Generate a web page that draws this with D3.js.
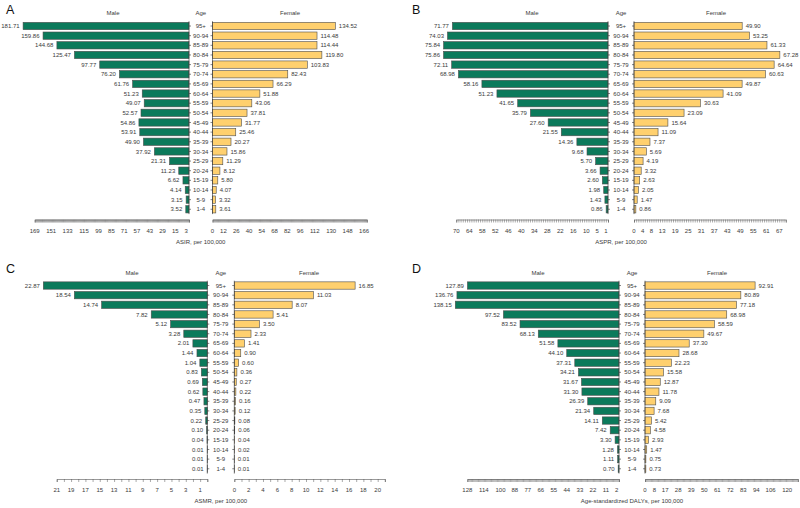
<!DOCTYPE html>
<html><head><meta charset="utf-8">
<script src="https://cdn.jsdelivr.net/npm/d3@7"></script>
<style>html,body{margin:0;padding:0;background:#fff}svg{display:block}</style>
</head><body><svg id="c" width="800" height="508"></svg>
<script>
const ages = ["95+","90-94","85-89","80-84","75-79","70-74","65-69","60-64","55-59","50-54","45-49","40-44","35-39","30-34","25-29","20-24","15-19","10-14","5-9","1-4"];

const asirMale   = [181.71,159.86,144.68,125.47,97.77,76.20,61.76,51.23,49.07,52.57,54.86,53.91,49.90,37.92,21.31,11.23,6.62,4.14,3.15,3.52];
const asirFemale = [134.52,114.48,114.44,119.80,103.83,82.43,66.29,51.88,43.06,37.81,31.77,25.46,20.27,15.86,11.29,8.12,5.80,4.07,3.32,3.61];
const asprMale   = [71.77,74.03,75.84,75.86,72.11,68.98,58.16,51.23,41.65,35.79,27.60,21.55,14.36,9.68,5.70,3.66,2.60,1.98,1.43,0.86];
const asprFemale = [49.90,53.25,61.33,67.28,64.64,60.63,49.87,41.09,30.63,23.09,15.64,11.09,7.37,5.69,4.19,3.32,2.63,2.05,1.47,0.86];
const asmrMale   = [22.87,18.54,14.74,7.82,5.12,3.28,2.01,1.44,1.04,0.83,0.69,0.62,0.47,0.35,0.22,0.10,0.04,0.01,0.01,0.01];
const asmrFemale = [16.85,11.03,8.07,5.41,3.50,2.33,1.41,0.90,0.60,0.36,0.27,0.22,0.16,0.12,0.08,0.06,0.04,0.02,0.01,0.01];
const dalyMale   = [127.89,136.76,138.15,97.52,83.52,68.13,51.58,44.10,37.31,34.21,31.67,31.30,26.39,21.34,14.11,7.42,3.30,1.28,1.11,0.70];
const dalyFemale = [92.91,80.89,77.18,68.98,58.59,49.67,37.30,28.68,22.23,15.58,12.87,11.78,9.09,7.68,5.42,4.58,2.93,1.47,0.75,0.73];

const asirMaleTicks   = [169,151,133,115,99,85,71,57,43,29,15,3];
const asirFemaleTicks = [0,12,26,40,54,68,82,96,112,130,148,166];
const asprMaleTicks   = [70,64,58,52,46,40,34,28,22,16,10,5,1];
const asprFemaleTicks = [0,4,8,13,19,25,31,37,43,49,55,61,67];
const asmrMaleTicks   = [21,19,17,15,13,11,9,7,5,3,1];
const asmrFemaleTicks = [0,2,4,6,8,10,12,14,16,18,20];
const dalyMaleTicks   = [128,114,100,88,77,66,55,44,33,22,11,2];
const dalyFemaleTicks = [0,8,17,28,39,50,61,72,83,94,106,120];

const panels = [
  {letter:"A", title:"ASIR, per 100,000", male:asirMale, female:asirFemale, mTicks:asirMaleTicks, fTicks:asirFemaleTicks,
   mExt:169, fExt:169, xm:189, xf:212.5, k:0.913, ox:0, oy:0, lx:6, mhx:113, fhx:290},
  {letter:"B", title:"ASPR, per 100,000", male:asprMale, female:asprFemale, mTicks:asprMaleTicks, fTicks:asprFemaleTicks,
   mExt:70, fExt:70, xm:608, xf:634, k:2.168, ox:0, oy:0, lx:412, mhx:532, fhx:716},
  {letter:"C", title:"ASMR, per 100,000", male:asmrMale, female:asmrFemale, mTicks:asmrMaleTicks, fTicks:asmrFemaleTicks,
   mExt:21, fExt:21, xm:207.3, xf:234.3, k:7.17, ox:0, oy:259.5, lx:6, mhx:132, fhx:309},
  {letter:"D", title:"Age-standardized DALYs, per 100,000", male:dalyMale, female:dalyFemale, mTicks:dalyMaleTicks, fTicks:dalyFemaleTicks,
   mExt:128, fExt:129, xm:619, xf:645, k:1.185, ox:0, oy:259.5, lx:412, mhx:538, fhx:717}
];

const GREEN = "#0b7a5b", YELLOW = "#ffd06e", STROKE = "#4d4d4d", TXT = "#3a3a3a";
const FONT = "'Liberation Sans', Arial, sans-serif";
const svg = d3.select("#c").style("font-family", FONT);

panels.forEach(p => {
  const g = svg.append("g").attr("transform", `translate(0,${p.oy})`);
  const y = d3.scaleBand().domain(ages).range([21.2, 214.1]).paddingInner(0.24).paddingOuter(0.12);
  const xM = d3.scaleLinear().domain([0, p.mExt]).range([p.xm, p.xm - p.mExt * p.k]);
  const xF = d3.scaleLinear().domain([0, p.fExt]).range([p.xf, p.xf + p.fExt * p.k]);
  const ageX = (p.xm + p.xf) / 2;

  // Panel letter
  g.append("text").attr("x", p.lx).attr("y", 13.5).attr("font-size", 12.5).attr("fill", "#111").text(p.letter);
  // headers
  const hdr = [[p.mhx, "Male"], [ageX, "Age"], [p.fhx, "Female"]];
  g.selectAll("text.hdr").data(hdr).join("text").attr("class","hdr")
    .attr("x", d => d[0]).attr("y", 13).attr("dy", "0.35em").attr("text-anchor", "middle")
    .attr("font-size", 6).attr("fill", TXT).text(d => d[1]);

  const rows = ages.map((a, i) => ({age: a, m: p.male[i], f: p.female[i]}));

  // male bars
  g.selectAll("rect.m").data(rows).join("rect").attr("class","m")
    .attr("x", d => xM(d.m)).attr("y", d => y(d.age))
    .attr("width", d => xM(0) - xM(d.m)).attr("height", y.bandwidth())
    .attr("fill", GREEN).attr("stroke", STROKE).attr("stroke-width", 0.6);
  // female bars
  g.selectAll("rect.f").data(rows).join("rect").attr("class","f")
    .attr("x", xF(0)).attr("y", d => y(d.age))
    .attr("width", d => xF(d.f) - xF(0)).attr("height", y.bandwidth())
    .attr("fill", YELLOW).attr("stroke", STROKE).attr("stroke-width", 0.6);

  // value labels
  g.selectAll("text.mv").data(rows).join("text").attr("class","mv")
    .attr("x", d => xM(d.m) - 3.5).attr("y", d => y(d.age) + y.bandwidth()/2).attr("dy","0.35em")
    .attr("text-anchor","end").attr("font-size", 6).attr("fill", TXT).text(d => d.m.toFixed(2));
  g.selectAll("text.fv").data(rows).join("text").attr("class","fv")
    .attr("x", d => xF(d.f) + 3.5).attr("y", d => y(d.age) + y.bandwidth()/2).attr("dy","0.35em")
    .attr("text-anchor","start").attr("font-size", 6).attr("fill", TXT).text(d => d.f.toFixed(2));

  // vertical axes (age)
  const yTop = y.range()[0], yBot = y.range()[1];
  g.append("line").attr("x1", p.xm).attr("x2", p.xm).attr("y1", yTop).attr("y2", yBot).attr("stroke", "#333").attr("stroke-width", 0.6);
  g.append("line").attr("x1", p.xf).attr("x2", p.xf).attr("y1", yTop).attr("y2", yBot).attr("stroke", "#333").attr("stroke-width", 0.6);
  g.selectAll("line.tm").data(ages).join("line").attr("class","tm")
    .attr("x1", p.xm).attr("x2", p.xm + 2).attr("y1", d => y(d) + y.bandwidth()/2).attr("y2", d => y(d) + y.bandwidth()/2)
    .attr("stroke", "#333").attr("stroke-width", 0.6);
  g.selectAll("line.tf").data(ages).join("line").attr("class","tf")
    .attr("x1", p.xf - 2).attr("x2", p.xf).attr("y1", d => y(d) + y.bandwidth()/2).attr("y2", d => y(d) + y.bandwidth()/2)
    .attr("stroke", "#333").attr("stroke-width", 0.6);
  g.selectAll("text.age").data(ages).join("text").attr("class","age")
    .attr("x", ageX).attr("y", d => y(d) + y.bandwidth()/2).attr("dy","0.35em")
    .attr("text-anchor","middle").attr("font-size", 6).attr("fill", TXT).text(d => d);

  // bottom axes
  const axY = 219.5;
  const mAxis = d3.axisBottom(xM).tickValues(d3.range(0, p.mExt + 1)).tickSize(3).tickFormat("");
  const fAxis = d3.axisBottom(xF).tickValues(d3.range(0, p.fExt + 1)).tickSize(3).tickFormat("");
  [mAxis, fAxis].forEach(ax => {
    const a = g.append("g").attr("transform", `translate(0,${axY})`).call(ax);
    a.select(".domain").attr("stroke", "#555").attr("stroke-width", 0.6);
    a.selectAll(".tick line").attr("stroke", "#555").attr("stroke-width", 0.5);
  });
  g.selectAll("text.mt").data(p.mTicks).join("text").attr("class","mt")
    .attr("x", d => xM(d)).attr("y", axY + 11).attr("dy","0.35em").attr("text-anchor","middle")
    .attr("font-size", 6).attr("fill", TXT).text(d => d);
  g.selectAll("text.ft").data(p.fTicks).join("text").attr("class","ft")
    .attr("x", d => xF(d)).attr("y", axY + 11).attr("dy","0.35em").attr("text-anchor","middle")
    .attr("font-size", 6).attr("fill", TXT).text(d => d);
  g.append("text").attr("x", ageX).attr("y", axY + 22.3).attr("dy","0.35em").attr("text-anchor","middle")
    .attr("font-size", 6).attr("fill", TXT).text(p.title);
});
</script></body></html>
